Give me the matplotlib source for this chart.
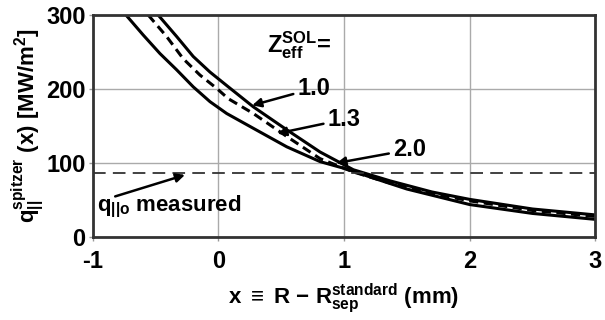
import numpy as np
import matplotlib
matplotlib.use("Agg")
import matplotlib.pyplot as plt
from matplotlib import font_manager

# narrow bold sans if installed, otherwise plain Liberation Sans
names = {f.name for f in font_manager.fontManager.ttflist}
fam = "Liberation Sans Narrow" if "Liberation Sans Narrow" in names else "Liberation Sans"

plt.rcParams["font.family"] = [fam, "DejaVu Sans"]
plt.rcParams["font.weight"] = "bold"
plt.rcParams["axes.labelweight"] = "bold"
plt.rcParams["axes.unicode_minus"] = False
plt.rcParams["mathtext.fontset"] = "custom"
plt.rcParams["mathtext.rm"] = fam + ":bold"
plt.rcParams["mathtext.it"] = fam + ":bold"
plt.rcParams["mathtext.bf"] = fam + ":bold"

# Z_eff = 1.0 (upper solid)
x_10 = [-0.478, -0.331, -0.199, -0.066, 0.08, 0.279, 0.545, 0.81, 1.075, 1.367, 1.7, 2.0, 2.5, 3.0]
q_10 = [300, 271, 244, 223, 203, 176, 145, 115, 91, 76, 61, 51, 38, 30]
# Z_eff = 1.3 (dashed)
x_13 = [-0.557, -0.411, -0.279, -0.146, -0.013, 0.08, 0.279, 0.545, 0.81, 1.075, 1.367, 1.7, 2.0, 2.5, 3.0]
q_13 = [300, 271, 241, 219, 201, 187, 167, 136, 106, 88, 73, 59, 49, 36, 28]
# Z_eff = 2.0 (lower solid)
x_20 = [-0.734, -0.597, -0.464, -0.331, -0.199, -0.066, 0.067, 0.279, 0.545, 0.81, 1.02, 1.23, 1.5, 2.0, 2.5, 3.0]
q_20 = [300, 273, 248, 226, 203, 183, 167, 147, 122, 102, 92, 80, 65, 44, 32, 24]
q_measured = 86

fig = plt.figure(figsize=(6.05, 3.2), dpi=100)
ax = fig.add_axes([0.153, 0.259, 0.831, 0.694])

ax.plot(x_10, q_10, color="black", lw=2.2)
ax.plot(x_13, q_13, color="black", lw=2.2, ls=(0, (3, 1.8)))
ax.plot(x_20, q_20, color="black", lw=2.2)
ax.axhline(q_measured, color="#333333", lw=1.3, ls=(0, (7, 4)))

ax.set_xlim(-1, 3)
ax.set_ylim(0, 300)
ax.set_xticks([-1, 0, 1, 2, 3])
ax.set_yticks([0, 100, 200, 300])
ax.grid(True, color="#aaaaaa", lw=1)
ax.tick_params(length=3, width=1, color="#999999", labelsize=17)
ax.tick_params(axis="x", pad=6)
ax.tick_params(axis="y", pad=2)
for s in ax.spines.values():
    s.set_linewidth(2)
    s.set_color("#333333")

ax.set_ylabel(r"$\mathrm{q_{||}^{spitzer}}$ (x) [MW/m$^{2}$]", fontsize=16, labelpad=0)
ax.set_xlabel(r"x $\equiv$ R $-$ $\mathrm{R_{sep}^{standard}}$ (mm)", fontsize=16, labelpad=6)

ax.text(0.39, 259, r"$\mathrm{Z_{eff}^{SOL}}$=", fontsize=17, va="center", ha="left")

arw = dict(arrowstyle="-|>", color="black", lw=1.8, mutation_scale=13, shrinkA=1, shrinkB=0)
ax.annotate("1.0", xy=(0.27, 178), xytext=(0.63, 201), fontsize=17, va="center", ha="left", arrowprops=arw)
ax.annotate("1.3", xy=(0.47, 140), xytext=(0.87, 159), fontsize=17, va="center", ha="left", arrowprops=arw)
ax.annotate("2.0", xy=(0.94, 100), xytext=(1.39, 118), fontsize=17, va="center", ha="left", arrowprops=arw)
ax.text(-0.965, 41, r"$\mathrm{q_{||o}}$ measured", fontsize=16, va="center", ha="left")
ax.annotate("", xy=(-0.265, 84), xytext=(-0.82, 55), arrowprops=dict(arw, shrinkA=0))

fig.savefig("out.png", dpi=100)
